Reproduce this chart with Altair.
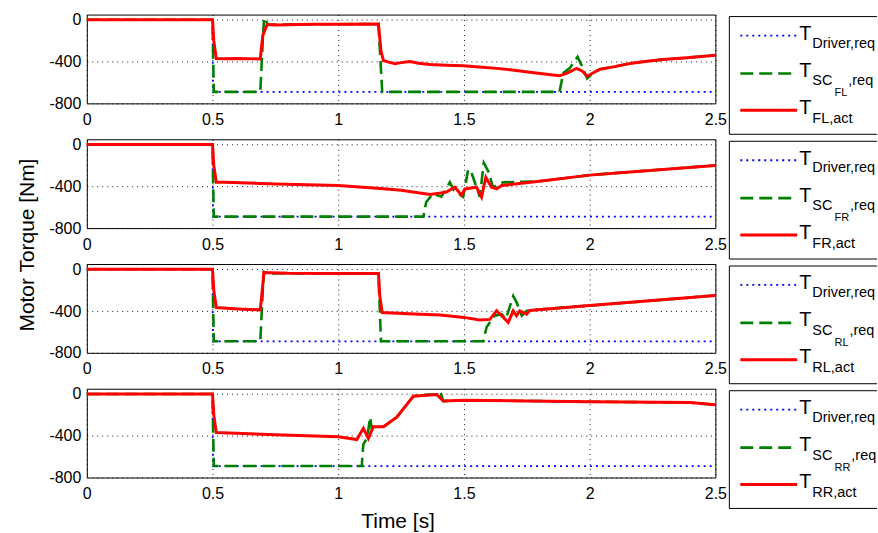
import altair as alt
import pandas as pd

FONT = "Liberation Sans"

# ---------------- data (time in s, torque in Nm) ----------------
WHEELS = ["FL", "FR", "RL", "RR"]

# driver torque request, same for every wheel
drv_t = [0.0, 0.5, 0.502, 2.5]
drv_v = [0, 0, -690, -690]

# front left
fl_sc_t = [0.0, 0.5, 0.505, 0.69, 0.70, 0.705, 0.72, 1.0, 1.16, 1.175, 1.88, 1.895, 1.92, 1.952,
           1.97, 1.99, 2.02, 2.04, 2.1, 2.16, 2.22, 2.29, 2.4, 2.5]
fl_sc_v = [0, 0, -690, -690, -200, 20, -45, -42, -40, -690, -690, -510, -465, -355,
           -446, -560, -500, -474, -448, -418, -400, -381, -360, -340]
fl_act_t = [0.0, 0.5, 0.505, 0.515, 0.55, 0.6, 0.69, 0.70, 0.717, 0.75, 0.9, 1.0, 1.16, 1.17,
            1.18, 1.2, 1.226, 1.25, 1.286, 1.32, 1.365, 1.43, 1.496, 1.56, 1.63, 1.70, 1.762,
            1.82, 1.88, 1.91, 1.948, 1.97, 1.99, 2.02, 2.04, 2.1, 2.16, 2.22, 2.29, 2.4, 2.5]
fl_act_v = [0, 0, -200, -370, -372, -370, -375, -150, -46, -50, -42, -42, -40, -300,
            -390, -405, -420, -410, -400, -415, -427, -435, -440, -452, -465, -482, -502,
            -518, -536, -510, -465, -490, -540, -500, -474, -448, -418, -400, -381, -360, -340]

# front right
fr_sc_t = [0.0, 0.5, 0.505, 1.339, 1.35, 1.377, 1.41, 1.444, 1.46, 1.497, 1.517, 1.53, 1.563,
           1.579, 1.6, 1.615, 1.655, 1.8, 2.0, 2.2, 2.5]
fr_sc_v = [0, 0, -690, -690, -550, -472, -500, -362, -440, -500, -237, -270, -500,
           -176, -270, -409, -362, -352, -293, -255, -200]
fr_act_t = [0.0, 0.5, 0.505, 0.515, 0.55, 0.75, 1.0, 1.167, 1.25, 1.365, 1.43, 1.464, 1.49,
            1.504, 1.55, 1.57, 1.587, 1.61, 1.63, 1.65, 1.8, 2.0, 2.2, 2.5]
fr_act_v = [0, 0, -200, -362, -362, -378, -393, -420, -438, -478, -456, -409, -485,
            -425, -409, -503, -315, -409, -425, -393, -352, -293, -255, -200]

# rear left
rl_sc_t = [0.0, 0.5, 0.505, 0.69, 0.70, 0.705, 0.72, 1.16, 1.17, 1.577, 1.59, 1.622, 1.65,
           1.667, 1.696, 1.71, 1.73, 1.75, 1.77, 2.0, 2.25, 2.5]
rl_sc_v = [0, 0, -690, -690, -200, -25, -40, -40, -690, -690, -555, -445, -430,
           -475, -257, -320, -445, -398, -390, -348, -300, -251]
rl_act_t = [0.0, 0.5, 0.505, 0.515, 0.6, 0.69, 0.70, 0.704, 0.8, 1.0, 1.16, 1.165, 1.175,
            1.325, 1.405, 1.5, 1.563, 1.603, 1.63, 1.676, 1.696, 1.709, 1.722, 1.749, 1.762,
            2.0, 2.25, 2.5]
rl_act_v = [0, 0, -200, -367, -380, -389, -150, -31, -38, -40, -40, -250, -414,
            -430, -439, -461, -485, -480, -398, -508, -398, -445, -398, -430, -395,
            -348, -300, -251]

# rear right
rr_sc_t = [0.0, 0.5, 0.505, 1.094, 1.096, 1.1, 1.115, 1.127, 1.133, 1.14, 1.18, 1.233, 1.299,
           1.33, 1.36, 1.392, 1.405, 1.418, 1.5, 2.0, 2.4, 2.5]
rr_sc_v = [0, 0, -690, -690, -590, -483, -420, -222, -330, -314, -314, -222, -21,
           -10, -5, -6, 25, -68, -61, -74, -83, -104]
rr_act_t = [0.0, 0.5, 0.505, 0.515, 0.75, 1.0, 1.074, 1.1, 1.12, 1.14, 1.18, 1.233, 1.299,
            1.392, 1.418, 1.5, 2.0, 2.4, 2.5]
rr_act_v = [0, 0, -200, -370, -391, -410, -437, -329, -425, -314, -314, -222, -21,
            -6, -68, -61, -74, -83, -104]

SC = {"FL": (fl_sc_t, fl_sc_v), "FR": (fr_sc_t, fr_sc_v),
      "RL": (rl_sc_t, rl_sc_v), "RR": (rr_sc_t, rr_sc_v)}
ACT = {"FL": (fl_act_t, fl_act_v), "FR": (fr_act_t, fr_act_v),
       "RL": (rl_act_t, rl_act_v), "RR": (rr_act_t, rr_act_v)}

X_TICKS = [0, 0.5, 1, 1.5, 2, 2.5]
Y_TICKS = [-800, -400, 0]
X_DOMAIN = [0, 2.5]
Y_DOMAIN = [-800, 50]

Y_TITLE = "Motor Torque [Nm]"
X_TITLE = "Time [s]"
DRIVER_SUB = "Driver,req"

# ---------------- styles ----------------
W, H = 630, 89
BLUE, GREEN, RED = "#0000ff", "#008000", "#ff0000"
STYLE = {
    "driver": dict(color=BLUE, strokeWidth=1.8, strokeDash=[2, 4]),
    "sc": dict(color=GREEN, strokeWidth=2.6, strokeDash=[13, 6]),
    "act": dict(color=RED, strokeWidth=3),
}

# approximate Arial advance widths (em) for the legend pieces
ADV = {"T": .611, "S": .667, "C": .722, "F": .611, "L": .556, "R": .722}


def text_w(s, size):
    return sum(ADV.get(c, .556) for c in s) * size


def frame(t, v):
    return pd.DataFrame({"t": t, "v": v, "i": range(len(t))})


x_axis = alt.Axis(values=X_TICKS, labelExpr="'' + datum.value", grid=True, gridDash=[1, 4],
                  gridColor="black", gridOpacity=0.9, domain=False, ticks=False,
                  labelFlush=False, labelOverlap=False, labelPadding=8, title=None)
y_axis = alt.Axis(values=Y_TICKS, labelExpr="'' + datum.value", grid=True, gridDash=[1, 4],
                  gridColor="black", gridOpacity=0.9, domain=False, ticks=False,
                  labelPadding=6, title=None)


def trace(df, kind):
    return alt.Chart(df).mark_line(**STYLE[kind]).encode(
        x=alt.X("t:Q", scale=alt.Scale(domain=X_DOMAIN, nice=False, zero=False), axis=x_axis),
        y=alt.Y("v:Q", scale=alt.Scale(domain=Y_DOMAIN, nice=False, zero=False), axis=y_axis),
        order="i:Q",
    )


ONE = alt.Data(values=[{"k": 0}])


def text(s, x, y, size, align="left", **kw):
    return alt.Chart(ONE).mark_text(text=s, align=align, baseline="alphabetic", font=FONT,
                                    fontSize=size, color="black", **kw).encode(
        x=alt.value(x), y=alt.value(y))


def rule(x, x2, y, y2=None):
    enc = dict(x=alt.value(x), x2=alt.value(x2), y=alt.value(y))
    if y2 is not None:
        enc["y2"] = alt.value(y2)
    return alt.Chart(ONE).mark_rule(color="black", strokeWidth=1).encode(**enc)


def sample(kind, y):
    return alt.Chart(ONE).mark_rule(**STYLE[kind]).encode(
        x=alt.value(655), x2=alt.value(712), y=alt.value(y))


def legend(w):
    big, sub, subsub = 20, 14.5, 11
    tx = 714
    sx = tx + text_w("T", big) + 1
    l, r, top, bot = 644, 792, 2, 120  # box runs off the right edge of the figure
    return [
        alt.Chart(ONE).mark_rect(fill="white").encode(
            x=alt.value(l), x2=alt.value(r), y=alt.value(top), y2=alt.value(bot)),
        rule(l, r, top), rule(l, r, bot), rule(l, l, top, bot),
        sample("driver", 21), sample("sc", 59), sample("act", 96),
        text("T", tx, 25.5, big), text(DRIVER_SUB, sx, 33, sub),
        text("T", tx, 62.5, big), text("SC", sx, 71, sub),
        text(w, sx + text_w("SC", sub) + 2, 82, subsub),
        text(",req", sx + text_w("SC", sub) + text_w(w, subsub) + 3, 71, sub),
        text("T", tx, 99.5, big), text(w + ",act", sx, 108.5, sub),
    ]


def panel(w, idx):
    layers = [trace(frame(drv_t, drv_v), "driver"),
              trace(frame(*SC[w]), "sc"),
              trace(frame(*ACT[w]), "act")]
    layers += legend(w)
    if idx == 0:
        # layout anchor for the top-left corner of the figure
        layers.append(alt.Chart(ONE).mark_rect(opacity=0).encode(
            x=alt.value(-86), x2=alt.value(-85), y=alt.value(-13), y2=alt.value(-12)))
        layers.append(text(Y_TITLE, -53, 231, 21, align="center", angle=270))
    if idx == 3:
        layers.append(text(X_TITLE, 312, 140, 21, align="center"))
    return alt.layer(*layers).properties(width=W, height=H)


chart = alt.vconcat(*[panel(w, i) for i, w in enumerate(WHEELS)], spacing=36,
                    bounds="flush").properties(padding=0, background="white")
chart = chart.configure_view(stroke="black", strokeWidth=1).configure_axis(
    labelFont=FONT, labelFontSize=16, labelColor="black")

chart.save("out.html", embed_options={"renderer": "svg", "actions": False})
